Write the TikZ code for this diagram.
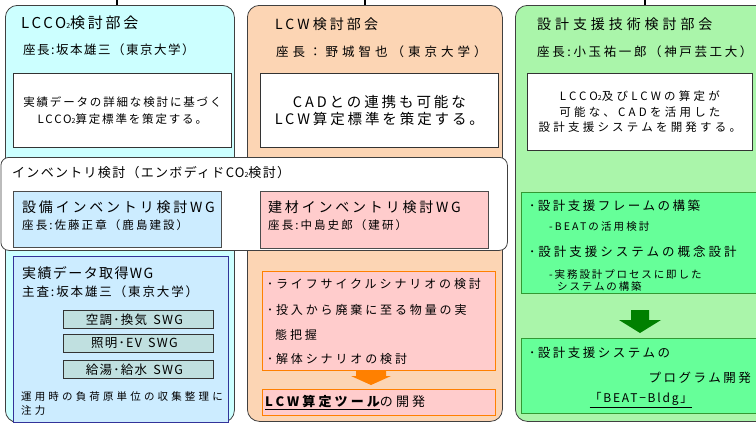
\documentclass[tikz,border=0pt]{standalone}
\usepackage{fontspec}
\setmainfont{Noto Sans CJK JP}
\newcommand\fs[3]{\fontsize{#1}{#2}\selectfont\addfontfeatures{LetterSpace=#3}}
\newcommand\two{{\fontsize{7}{7}\selectfont 2}}
\definecolor{lccofill}{RGB}{204,255,255}
\definecolor{lcwfill}{RGB}{252,213,180}
\definecolor{dsfill}{RGB}{170,245,170}
\definecolor{wgblue}{RGB}{204,236,255}
\definecolor{wgpink}{RGB}{255,204,204}
\definecolor{swgfill}{RGB}{192,224,224}
\definecolor{navyline}{RGB}{51,51,153}
\definecolor{orangeline}{RGB}{255,128,0}
\definecolor{mint}{RGB}{102,255,153}
\definecolor{mintline}{RGB}{51,153,51}
\definecolor{darkgreen}{RGB}{0,128,0}
\begin{document}
\begin{tikzpicture}[x=1pt,y=-1pt,
  panel/.style={draw=black!75, line width=0.8pt, rounded corners=12pt, anchor=north west, inner sep=0pt},
  wbox/.style={draw=black!80, fill=white, line width=0.8pt, anchor=north west, inner sep=0pt},
  bbox/.style={draw=black!70, line width=0.8pt, anchor=north west, inner sep=0pt},
  swgbox/.style={draw=black!80, fill=swgfill, line width=0.8pt, anchor=north west, inner sep=0pt, minimum width=150pt, minimum height=18pt},
  obox/.style={draw=orangeline, fill=wgpink, line width=1.3pt, anchor=north west, inner sep=0pt},
  gbox/.style={draw=mintline, fill=mint, line width=1pt, anchor=north west, inner sep=0pt},
  txt/.style={anchor=west, inner sep=0pt, text=black},
  ctxt/.style={anchor=center, inner sep=0pt, align=center, text=black},
  conn/.style={draw=black, line width=1.5pt}
]
\useasboundingbox (0,0) rectangle (756,424);

% panels
\node[panel, fill=lccofill, minimum width=229pt, minimum height=417pt] (p1) at (5,5) {};
\node[panel, fill=lcwfill, minimum width=255pt, minimum height=416pt] (p2) at (247,5) {};
\node[panel, fill=dsfill, minimum width=260pt, minimum height=416pt] (p3) at (515,5) {};

% connectors from above
\coordinate (t1) at (117,0);
\coordinate (t2) at (365,0);
\coordinate (t3) at (645,0);
\draw[conn] (t1) -- (t1 |- p1.north);
\draw[conn] (t2) -- (t2 |- p2.north);
\draw[conn] (t3) -- (t3 |- p3.north);

% left panel top
\node[txt, font=\fs{15}{15}{18}] (lt) at (21,23) {LCCO\two 検討部会};
\node[txt, font=\fs{12.5}{12.5}{12}] (lc) at (23,50) {座長:坂本雄三（東京大学）};
\node[wbox, minimum width=218pt, minimum height=74pt] (lb) at (13,73) {};
\node[ctxt, font=\fs{11.5}{17}{16}] (lbt) at (lb.center) {実績データの詳細な検討に基づく\\LCCO\two 算定標準を策定する。};

% middle panel top
\node[txt, font=\fs{14}{14}{22}] (mt) at (275,24) {LCW検討部会};
\node[txt, font=\fs{12.5}{12.5}{32}] (mc) at (276,52) {座長：野城智也（東京大学）};
\node[wbox, minimum width=238pt, minimum height=74pt] (mb) at (260,73) {};
\node[ctxt, font=\fs{14.5}{16.5}{20}] (mbt) at (mb.center) {CADとの連携も可能な\\LCW算定標準を策定する。};

% right panel top
\node[txt, font=\fs{14}{14}{28}] (rt) at (537,24) {設計支援技術検討部会};
\node[txt, font=\fs{12.5}{12.5}{21}] (rc) at (537,52) {座長:小玉祐一郎（神戸芸工大）};
\node[wbox, minimum width=225pt, minimum height=77pt] (rb) at (527,73) {};
\node[ctxt, font=\fs{11.5}{15.5}{28}] (rbt) at (rb.center) {LCCO\two 及びLCWの算定が\\可能な、CADを活用した\\設計支援システムを開発する。};

% inventory band
\node[panel, fill=white, rounded corners=8pt, minimum width=506.5pt, minimum height=93pt] (band) at (0.5,157) {};
\node[txt, font=\fs{13}{13}{10}] (bt) at (12,173) {インベントリ検討（エンボディドCO\two 検討）};
\node[bbox, fill=wgblue, minimum width=208pt, minimum height=56pt] (wg1) at (13,191) {};
\node[txt, font=\fs{14}{14}{20}] (wg1a) at (22,207) {設備インベントリ検討WG};
\node[txt, font=\fs{11.5}{11.5}{18}] (wg1b) at (22,225) {座長:佐藤正章（鹿島建設）};
\node[bbox, fill=wgpink, minimum width=228pt, minimum height=57pt] (wg2) at (260,191) {};
\node[txt, font=\fs{14}{14}{20}] (wg2a) at (268,207) {建材インベントリ検討WG};
\node[txt, font=\fs{11.5}{11.5}{18}] (wg2b) at (268,225) {座長:中島史郎（建研）};

% lower left
\node[draw=navyline, fill=wgblue, line width=1.2pt, anchor=north west, inner sep=0pt, minimum width=215pt, minimum height=166pt] (wg3) at (13,256) {};
\node[txt, font=\fs{14}{14}{10}] (wg3a) at (22,273) {実績データ取得WG};
\node[txt, font=\fs{12.5}{12.5}{15}] (wg3b) at (22,292) {主査:坂本雄三（東京大学）};
\node[swgbox] (s1) at (63,310) {};
\node[swgbox] (s2) at (63,334) {};
\node[swgbox] (s3) at (63,360) {};
\node[ctxt, font=\fs{12.5}{12.5}{10}] (s1t) at ([xshift=-4pt]s1.center) {空調･換気\enspace SWG};
\node[ctxt, font=\fs{12.5}{12.5}{10}] (s2t) at ([xshift=-4pt]s2.center) {照明･EV\enspace SWG};
\node[ctxt, font=\fs{12.5}{12.5}{10}] (s3t) at ([xshift=-4pt]s3.center) {給湯･給水\enspace SWG};
\node[txt, font=\fs{10.5}{10.5}{30}] (wg3c) at (21,397) {運用時の負荷原単位の収集整理に};
\node[txt, font=\fs{10.5}{10.5}{30}] (wg3d) at (21,411) {注力};

% lower middle
\node[obox, minimum width=233pt, minimum height=99pt] (o1) at (262,271) {};
\node[txt, font=\fs{12}{12}{24}] (o1a) at (267,284) {･ライフサイクルシナリオの検討};
\node[txt, font=\fs{12}{12}{24}] (o1b) at (267,310) {･投入から廃棄に至る物量の実};
\node[txt, font=\fs{12}{12}{24}] (o1c) at (275,335) {態把握};
\node[txt, font=\fs{12}{12}{24}] (o1d) at (267,359) {･解体シナリオの検討};
\fill[orangeline] (356,370) -- (386,370) -- (386,376) -- (391,376) -- (371,385) -- (351,376) -- (356,376) -- cycle;
\node[obox, minimum width=233pt, minimum height=26pt] (o2) at (262,389) {};
\node[txt, font=\fs{13}{13}{24}] (o2a) at (265,403) {\underline{\bfseries LCW算定ツール}の開発};

% lower right
\node[gbox, minimum width=250pt, minimum height=101pt] (g1) at (521,192) {};
\node[txt, font=\fs{12.5}{12.5}{20}] (g1a) at (529,206) {･設計支援フレームの構築};
\node[txt, font=\fs{10.5}{10.5}{20}] (g1b) at (549,227) {-BEATの活用検討};
\node[txt, font=\fs{12.5}{12.5}{24}] (g1c) at (529,252) {･設計支援システムの概念設計};
\node[txt, font=\fs{10.5}{10.5}{18}] (g1d) at (549,275) {-実務設計プロセスに即した};
\node[txt, font=\fs{10.5}{10.5}{18}] (g1e) at (557,286) {システムの構築};
\fill[darkgreen] (631,310) -- (649,310) -- (649,320) -- (661,320) -- (640,333) -- (619,320) -- (631,320) -- cycle;
\node[gbox, minimum width=250pt, minimum height=75pt] (g2) at (521,338) {};
\node[txt, font=\fs{12.5}{12.5}{20}] (g2a) at (529,353) {･設計支援システムの};
\node[anchor=east, inner sep=0pt, font=\fs{12.5}{12.5}{20}] (g2b) at (751,378) {プログラム開発};
\node[ctxt, font=\fs{12}{12}{15}] (g2c) at (641,400) {\underline{「BEAT−Bldg」}};
\end{tikzpicture}
\end{document}
